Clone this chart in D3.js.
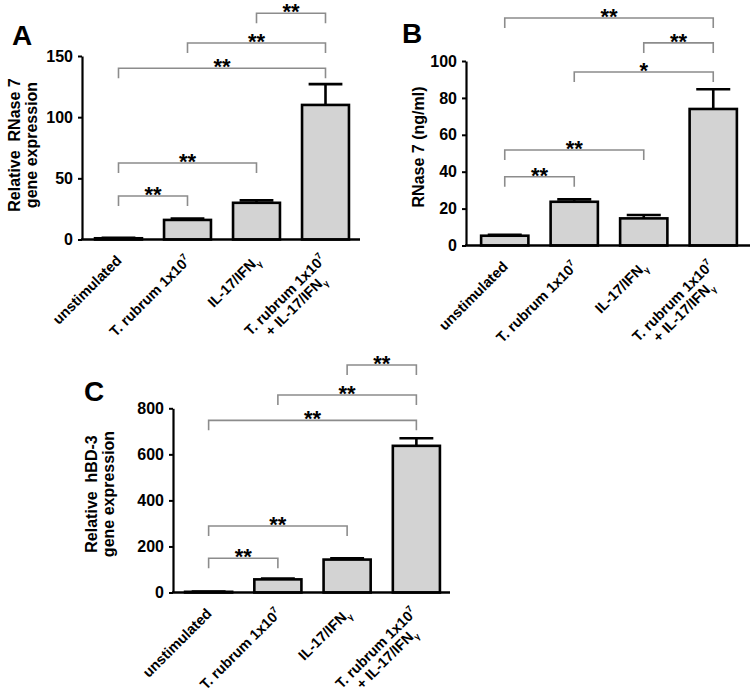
<!DOCTYPE html>
<html><head><meta charset="utf-8">
<script src="https://cdn.jsdelivr.net/npm/d3@7"></script>
<style>
body{margin:0;background:#fff}
svg{display:block}
text{font-family:Arial,"Liberation Sans",sans-serif;font-weight:bold;fill:#000}
</style>
</head><body>
<svg id="chart" width="751" height="697"></svg>
<script>
// ---------- data ----------
const categories = ["unstimulated", "T. rubrum 1x10^7", "IL-17/IFN_γ", "T. rubrum 1x10^7\n+ IL-17/IFN_γ"];

const rnase7GeneMean = [1, 16, 30, 110];
const rnase7GeneErr  = [0.4, 1.2, 2, 17];
const rnase7GeneTicks = [0, 50, 100, 150];
const rnase7GeneSig = [
  {from: 0, to: 1, level: 35.6, label: "**"},
  {from: 0, to: 2, level: 62.5, label: "**"},
  {from: 0, to: 3, level: 140, label: "**"},
  {from: 1, to: 3, level: 160.6, label: "**"},
  {from: 2, to: 3, level: 185, label: "**"}
];

const rnase7ProtMean = [5.3, 23.7, 14.7, 74];
const rnase7ProtErr  = [0.5, 1.3, 1.8, 10.7];
const rnase7ProtTicks = [0, 20, 40, 60, 80, 100];
const rnase7ProtSig = [
  {from: 0, to: 1, level: 37.3, label: "**"},
  {from: 0, to: 2, level: 51.8, label: "**"},
  {from: 1, to: 3, level: 94, label: "*"},
  {from: 2, to: 3, level: 109.8, label: "**"},
  {from: 0, to: 3, level: 123.3, label: "**"}
];

const hbd3Mean = [3, 57, 143, 637];
const hbd3Err  = [1, 4, 5, 33];
const hbd3Ticks = [0, 200, 400, 600, 800];
const hbd3Sig = [
  {from: 0, to: 1, level: 148.5, label: "**"},
  {from: 0, to: 2, level: 288.8, label: "**"},
  {from: 0, to: 3, level: 747.7, label: "**"},
  {from: 1, to: 3, level: 857.6, label: "**"},
  {from: 2, to: 3, level: 987.8, label: "**"}
];

// ---------- layout ----------
const svg = d3.select("#chart");
svg.append("rect").attr("width", 751).attr("height", 697).attr("fill", "#fff");

function richText(sel, str, size) {
  // ^x -> superscript, _x -> subscript
  let i = 0, buf = "";
  const flush = () => { if (buf) { sel.append("tspan").text(buf); buf = ""; } };
  while (i < str.length) {
    const c = str[i];
    if ((c === "^" || c === "_") && i + 1 < str.length) {
      flush();
      sel.append("tspan")
        .attr("font-size", size * 0.62)
        .attr("dy", c === "^" ? -size * 0.42 : size * 0.28)
        .text(str[i + 1]);
      sel.append("tspan").attr("dy", c === "^" ? size * 0.42 : -size * 0.28).text("\u200b");
      i += 2;
    } else { buf += c; i++; }
  }
  flush();
}

const LABEL_SIZE = 14.5;

function panel(cfg) {
  const g = svg.append("g");
  const x = d3.scaleBand().domain(d3.range(categories.length)).range(cfg.xRange).paddingInner(0.32).paddingOuter(0.16);
  const y = d3.scaleLinear().domain([0, cfg.ticks[cfg.ticks.length - 1]]).range(cfg.yRange);

  // bars
  g.selectAll("rect.bar").data(cfg.mean).join("rect")
    .attr("x", (d, i) => x(i)).attr("width", x.bandwidth())
    .attr("y", d => y(d)).attr("height", d => y(0) - y(d))
    .attr("fill", "#d3d3d3").attr("stroke", "#000").attr("stroke-width", 2.6);

  // error bars (upper)
  const cap = x.bandwidth() * 0.36;
  cfg.mean.forEach((m, i) => {
    const cx = x(i) + x.bandwidth() / 2;
    g.append("line").attr("x1", cx).attr("x2", cx).attr("y1", y(m)).attr("y2", y(m + cfg.err[i]))
      .attr("stroke", "#000").attr("stroke-width", 2.6);
    g.append("line").attr("x1", cx - cap).attr("x2", cx + cap).attr("y1", y(m + cfg.err[i])).attr("y2", y(m + cfg.err[i]))
      .attr("stroke", "#000").attr("stroke-width", 2.6);
  });

  // y axis
  const ya = g.append("g").attr("transform", `translate(${cfg.axisX},0)`)
    .call(d3.axisLeft(y).tickValues(cfg.ticks).tickSize(4).tickSizeOuter(0).tickPadding(5));
  ya.select(".domain").attr("stroke", "#000").attr("stroke-width", 2.2);
  ya.selectAll(".tick line").attr("stroke", "#000").attr("stroke-width", 2);
  ya.selectAll(".tick text").attr("font-size", 16).attr("font-family", "Arial, 'Liberation Sans', sans-serif").attr("font-weight", "bold").attr("fill", "#000");

  // x axis baseline
  g.append("line").attr("x1", cfg.axisX - 1).attr("x2", cfg.xEnd).attr("y1", y(0)).attr("y2", y(0))
    .attr("stroke", "#000").attr("stroke-width", 2.4);

  // x labels
  categories.forEach((c, i) => {
    const cx = x(i) + x.bandwidth() / 2;
    const lines = c.split("\n");
    const lg = g.append("g").attr("transform", `translate(${cx + 4},${y(0) + 22}) rotate(-45)`);
    const t1 = lg.append("text").attr("text-anchor", "end").attr("font-size", LABEL_SIZE);
    richText(t1, lines[0], LABEL_SIZE);
    if (lines.length > 1) {
      lg.attr("transform", `translate(${cx + 1},${y(0) + 21}) rotate(-45)`);
      const len1 = t1.node().getComputedTextLength();
      const t2 = lg.append("text").attr("text-anchor", "middle").attr("font-size", LABEL_SIZE)
        .attr("x", -len1 / 2).attr("y", 15);
      richText(t2, lines[1], LABEL_SIZE);
    }
  });

  // significance brackets
  cfg.sig.forEach(s => {
    const x1 = x(s.from) + x.bandwidth() / 2, x2 = x(s.to) + x.bandwidth() / 2, yy = y(s.level);
    g.append("path").attr("d", `M${x1},${yy + 10}V${yy}H${x2}V${yy + 10}`)
      .attr("fill", "none").attr("stroke", "#8c8c8c").attr("stroke-width", 1.6);
    g.append("text").attr("x", (x1 + x2) / 2).attr("y", yy + 6).attr("text-anchor", "middle")
      .attr("font-size", 22).attr("fill", "#111").attr("font-weight", "normal").text(s.label);
  });

  // y title
  cfg.yTitle.forEach((t, k) => {
    g.append("text").attr("transform", `translate(${cfg.yTitleX[k]},${cfg.yTitleY}) rotate(-90)`)
      .attr("text-anchor", "middle").attr("font-size", 16).attr("xml:space", "preserve").text(t);
  });

  // panel letter
  g.append("text").attr("x", cfg.letterPos[0]).attr("y", cfg.letterPos[1]).attr("font-size", 28).text(cfg.letter);
}

panel({mean: rnase7GeneMean, err: rnase7GeneErr, ticks: rnase7GeneTicks, sig: rnase7GeneSig,
  axisX: 82, xRange: [84, 360], xEnd: 360, yRange: [239.5, 56],
  yTitle: ["Relative  RNase 7", "gene expression"], yTitleX: [20, 37], yTitleY: 145,
  letter: "A", letterPos: [12, 45]});

panel({mean: rnase7ProtMean, err: rnase7ProtErr, ticks: rnase7ProtTicks, sig: rnase7ProtSig,
  axisX: 466, xRange: [470, 748], xEnd: 750, yRange: [245.5, 61],
  yTitle: ["RNase 7 (ng/ml)"], yTitleX: [424], yTitleY: 147,
  letter: "B", letterPos: [402, 43]});

panel({mean: hbd3Mean, err: hbd3Err, ticks: hbd3Ticks, sig: hbd3Sig,
  axisX: 173, xRange: [174, 451], xEnd: 450, yRange: [592.5, 408.3],
  yTitle: ["Relative  hBD-3", "gene expression"], yTitleX: [97, 114], yTitleY: 494,
  letter: "C", letterPos: [84, 401]});
</script>
</body></html>
